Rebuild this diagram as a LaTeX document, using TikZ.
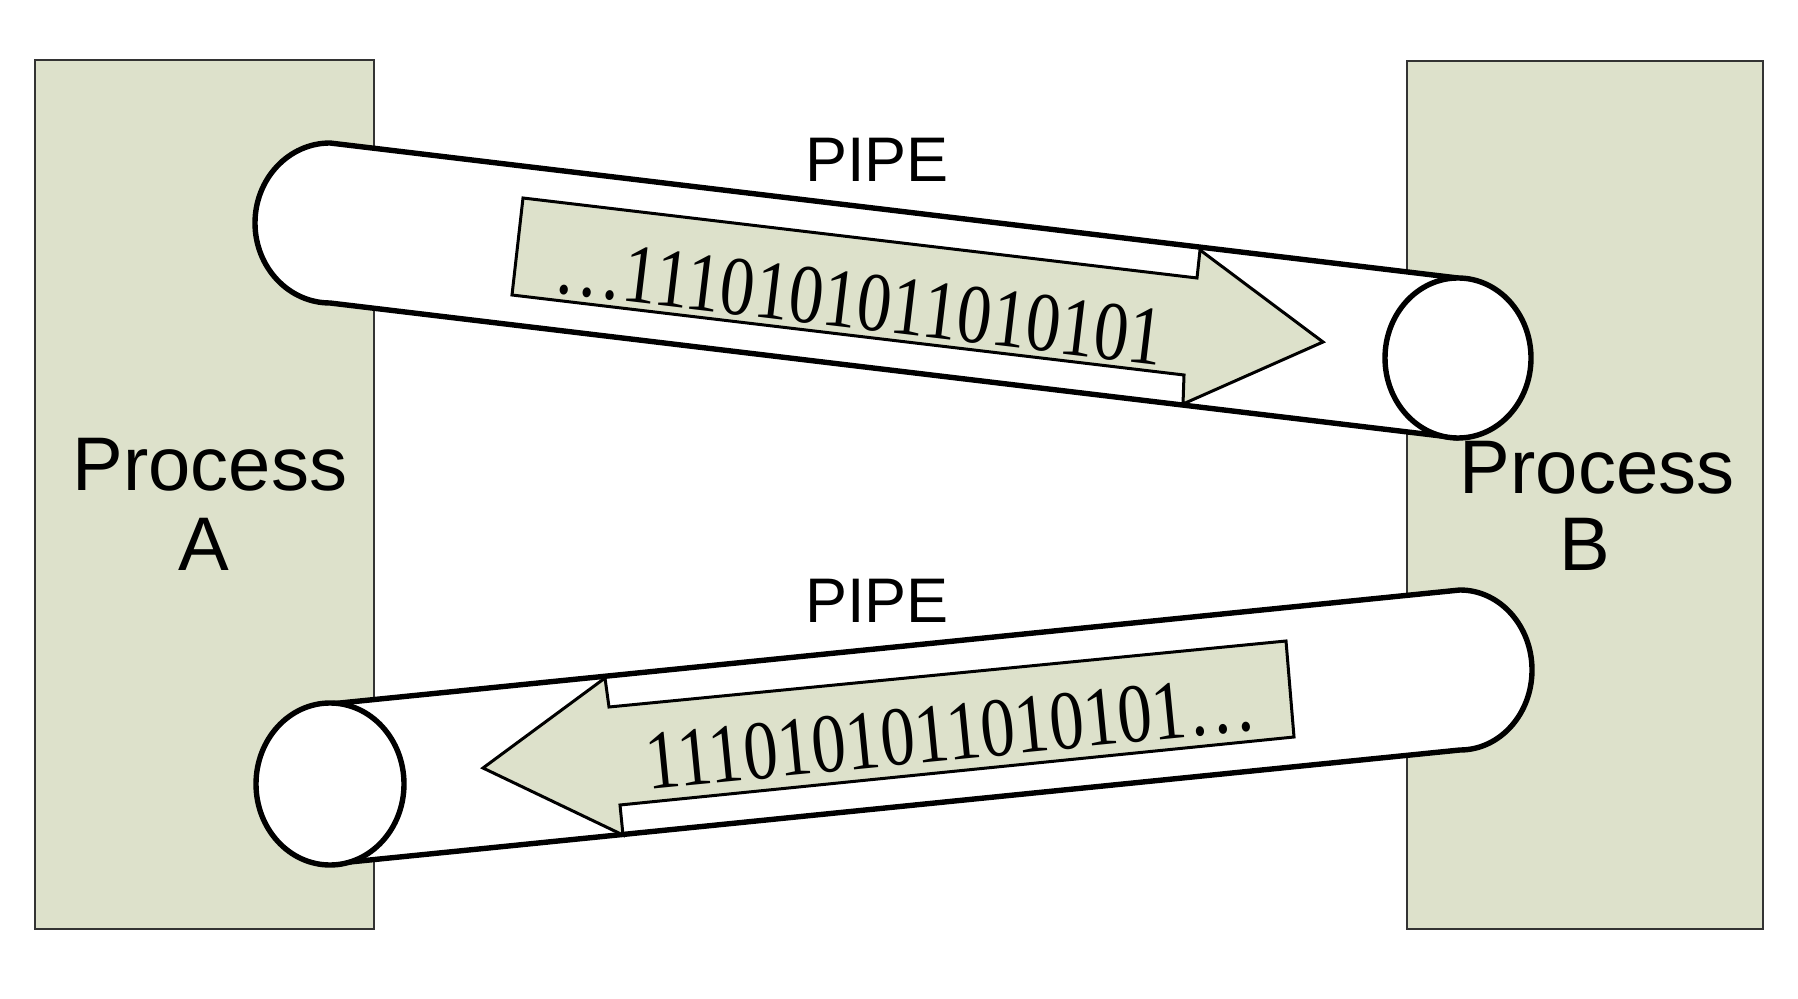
\documentclass[tikz,border=0pt]{standalone}
\usepackage{fontspec}
\usepackage{graphicx}
\setmainfont{Liberation Serif}
\setsansfont{Liberation Sans}
\definecolor{procgreen}{RGB}{221,225,203}
\tikzset{
  procbox/.style={fill=procgreen, draw=black!80, line width=0.6pt},
  pipe/.style={fill=white, draw=black, line width=2.7pt, line join=round},
  databox/.style={fill=procgreen, draw=black, line width=1.5pt},
  proclabel/.style={font=\sffamily\fontsize{38}{45}\selectfont, anchor=base, inner sep=0pt},
  pipelabel/.style={font=\sffamily\fontsize{31.5}{38}\selectfont, anchor=base, inner sep=0pt},
  bits/.style={font=\fontsize{42}{50}\selectfont, anchor=base, inner sep=0pt}
}
\begin{document}
\begin{tikzpicture}[x=0.5pt, y=-0.5pt]
    \useasboundingbox (0,0) rectangle (1798,999);

    % Processi
    \draw[procbox] (35,60) rectangle (374,929);
    \draw[procbox] (1407,61) rectangle (1763,929);

    % Pipe superiore (A -> B)
    \draw[pipe] (1458,278) -- (330,143) arc[start angle=270, end angle=90, x radius=75, y radius=80] -- (1458,438) -- cycle;
    \draw[pipe] (1458,358) ellipse[x radius=73, y radius=80];
    \draw[databox] (523,198) -- (1197,278) -- (1200,250) -- (1323,342) -- (1183,404) -- (1184,375) -- (512,295) -- cycle;
    \node[bits, rotate=-6.8] (bitsAB) at (856,329) {\scalebox{0.82}[1]{…1110101011010101}};

    % Pipe inferiore (B -> A)
    \draw[pipe] (330,704) -- (1460,590) arc[start angle=270, end angle=450, x radius=72, y radius=80] -- (330,864) -- cycle;
    \draw[pipe] (330,784) ellipse[x radius=74, y radius=81];
    \draw[databox] (1286,641) -- (1294,737) -- (620,805) -- (623,835) -- (483,768) -- (605,678) -- (609,707) -- cycle;
    \node[bits, rotate=5.6] (bitsBA) at (953,760) {\scalebox{0.82}[1]{1110101011010101…}};

    % Etichette
    \node[pipelabel] (pipeAB) at (877,182) {PIPE};
    \node[pipelabel] (pipeBA) at (877,622) {PIPE};
    \node[proclabel] (procA) at (210,491) {Process};
    \node[proclabel] (procAname) at (204,570) {A};
    \node[proclabel] (procB) at (1597,494) {Process};
    \node[proclabel] (procBname) at (1585,570) {B};
\end{tikzpicture}
\end{document}
